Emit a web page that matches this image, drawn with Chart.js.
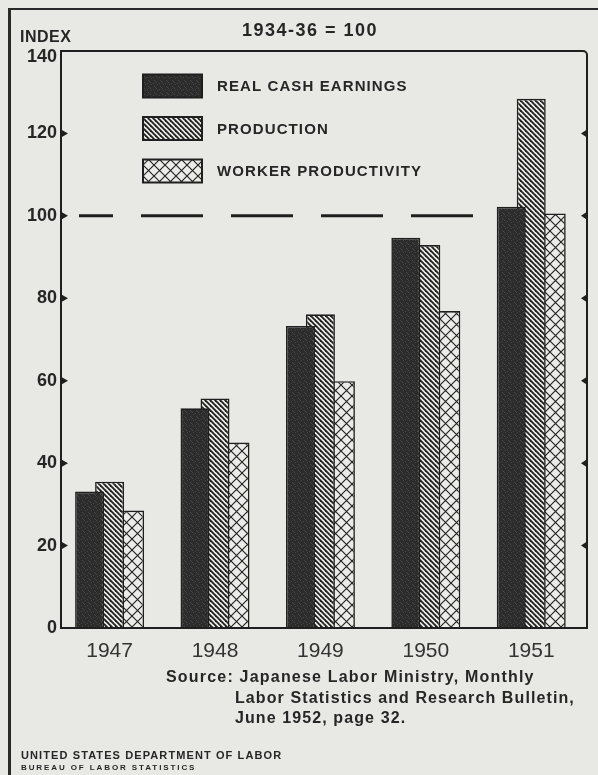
<!DOCTYPE html>
<html>
<head>
<meta charset="utf-8">
<title>Japan: real cash earnings, production and worker productivity, 1947-51</title>
<script src="https://cdn.jsdelivr.net/npm/chart.js@4.4.1/dist/chart.umd.min.js"></script>
<style>
  html, body { margin: 0; padding: 0; background: #e8e8e5; }
  #page {
    position: relative; width: 598px; height: 775px; overflow: hidden;
    background: #e8e8e5; color: #262626;
    font-family: "Liberation Sans", Arial, sans-serif;
  }
  #page canvas { position: absolute; left: 0; top: 0; }
  .txt { position: absolute; white-space: nowrap; font-weight: bold; line-height: 1; }
  .rule { position: absolute; background: #2a2a2a; }
</style>
</head>
<body>
<div id="page">
  <div class="rule" style="left:8px; top:8px; width:2.5px; height:780px;"></div>
  <div class="rule" style="left:8px; top:8px; width:600px; height:2px;"></div>

  <canvas id="chart" width="598" height="775"></canvas>

  <div class="txt" style="left:242px; top:21px; font-size:18px; letter-spacing:1.5px;">1934-36 = 100</div>
  <div class="txt" style="left:20px; top:29px; font-size:16px; letter-spacing:0.5px;">INDEX</div>

  <div class="txt" style="left:166px; top:669px; font-size:16px; letter-spacing:1.2px;">Source: Japanese Labor Ministry, Monthly</div>
  <div class="txt" style="left:235px; top:690px; font-size:16px; letter-spacing:1.1px;">Labor Statistics and Research Bulletin,</div>
  <div class="txt" style="left:235px; top:710px; font-size:16px; letter-spacing:1.1px;">June 1952, page 32.</div>

  <div class="txt" style="left:21px; top:750px; font-size:11px; letter-spacing:1.1px;">UNITED STATES DEPARTMENT OF LABOR</div>
  <div class="txt" style="left:21px; top:764px; font-size:8px; letter-spacing:1.9px;">BUREAU OF LABOR STATISTICS</div>
</div>

<script>
// values (index, 1934-36 = 100)
const years = [1947, 1948, 1949, 1950, 1951];
const realCashEarnings = [33.1, 53.3, 73.3, 94.7, 102.2];
const production = [35.5, 55.7, 76.1, 92.9, 128.4];
const workerProductivity = [28.5, 45.0, 59.9, 76.9, 100.6];
const yTicks = [0, 20, 40, 60, 80, 100, 120, 140];
const baseIndex = 100;

const INK = '#1f1f1f';
const PAPER = '#ebebe8';

// --- fill patterns, like the hatching of the printed chart ---
function makePattern(size, paint) {
    const c = document.createElement('canvas');
    c.width = size; c.height = size;
    const g = c.getContext('2d');
    paint(g, size);
    return g.createPattern(c, 'repeat');
}

const ctx0 = document.getElementById('chart').getContext('2d');

const darkFill = makePattern(6, (g, s) => {
    g.fillStyle = '#2c2c2c';
    g.fillRect(0, 0, s, s);
    g.fillStyle = '#464646';
    [[1, 0], [4, 2], [0, 4], [3, 5], [5, 3]].forEach(([x, y]) => g.fillRect(x, y, 1, 1));
});

const stripeFill = makePattern(5, (g, s) => {
    g.fillStyle = PAPER;
    g.fillRect(0, 0, s, s);
    g.strokeStyle = INK;
    g.lineWidth = 1.8;
    for (let k = -1; k <= 1; k++) {
        g.beginPath();
        g.moveTo(k * s - 1, -1);
        g.lineTo(k * s + s + 1, s + 1);
        g.stroke();
    }
});

const crossFill = makePattern(11, (g, s) => {
    g.fillStyle = PAPER;
    g.fillRect(0, 0, s, s);
    g.strokeStyle = INK;
    g.lineWidth = 1.1;
    g.beginPath();
    g.moveTo(0, 0); g.lineTo(s, s);
    g.moveTo(s, 0); g.lineTo(0, s);
    g.stroke();
});

// --- frame, tick arrows, the dashed 100 line and the legend ---
const framePlugin = {
    id: 'frame',
    afterLayout(chart) {
        // the top label (140) sits a little below its tick, under "INDEX"
        const items = chart.scales.y.getLabelItems(chart.chartArea);
        const top = items[items.length - 1];
        if (top) top.options.translation[1] += 6;
    },
    beforeDatasetsDraw(chart) {
        const { ctx, chartArea: a, scales: { y } } = chart;
        const yb = y.getPixelForValue(baseIndex);
        ctx.save();
        ctx.strokeStyle = INK;
        ctx.lineWidth = 3;
        ctx.setLineDash([62, 28]);
        ctx.lineDashOffset = 28;
        ctx.beginPath();
        ctx.moveTo(a.left + 18, yb);
        ctx.lineTo(a.right - 8, yb);
        ctx.stroke();
        ctx.restore();
    },
    afterDatasetsDraw(chart) {
        const { ctx, chartArea: a, scales: { y } } = chart;
        ctx.save();
        ctx.strokeStyle = INK;
        ctx.lineWidth = 2;
        ctx.beginPath();
        ctx.moveTo(a.left, a.bottom);
        ctx.lineTo(a.left, a.top);
        ctx.lineTo(a.right - 4, a.top);
        ctx.arcTo(a.right, a.top, a.right, a.top + 4, 4);
        ctx.lineTo(a.right, a.bottom);
        ctx.closePath();
        ctx.stroke();

        // small arrow ticks on both axes
        ctx.fillStyle = INK;
        yTicks.slice(1, -1).forEach(v => {
            const py = y.getPixelForValue(v);
            ctx.beginPath();
            ctx.moveTo(a.left, py - 4);
            ctx.lineTo(a.left + 7, py);
            ctx.lineTo(a.left, py + 4);
            ctx.fill();
            ctx.beginPath();
            ctx.moveTo(a.right, py - 4);
            ctx.lineTo(a.right - 6, py);
            ctx.lineTo(a.right, py + 4);
            ctx.fill();
        });

        // legend inside the plot
        const boxX = a.left + 82, boxW = 59, boxH = 23;
        ctx.font = 'bold 15px "Liberation Sans", Arial, sans-serif';
        ctx.letterSpacing = '1.1px';
        ctx.textBaseline = 'middle';
        chart.data.datasets.forEach((ds, i) => {
            const cy = a.top + 35 + i * 42.5;
            ctx.fillStyle = ds.backgroundColor;
            ctx.fillRect(boxX, cy - boxH / 2, boxW, boxH);
            ctx.lineWidth = 2;
            ctx.strokeRect(boxX, cy - boxH / 2, boxW, boxH);
            ctx.fillStyle = '#262626';
            ctx.fillText(ds.label, boxX + 74, cy + 1);
        });
        ctx.restore();
    }
};

const barStyle = { borderColor: INK, borderWidth: 1.6, categoryPercentage: 0.569, barPercentage: 1.45 };

new Chart(ctx0, {
    type: 'bar',
    data: {
        labels: years,
        datasets: [
            { label: 'REAL CASH EARNINGS', data: realCashEarnings, backgroundColor: darkFill, ...barStyle },
            { label: 'PRODUCTION', data: production, backgroundColor: stripeFill, ...barStyle },
            { label: 'WORKER PRODUCTIVITY', data: workerProductivity, backgroundColor: crossFill, ...barStyle }
        ]
    },
    options: {
        responsive: false,
        animation: false,
        layout: { padding: { top: 51, right: 11, left: 0, bottom: 0 } },
        plugins: { legend: { display: false }, tooltip: { enabled: false } },
        scales: {
            x: {
                type: 'linear',
                min: 1946.539,
                max: 1951.529,
                offset: false,
                grid: { display: false, drawTicks: false },
                border: { display: false },
                afterBuildTicks: scale => { scale.ticks = years.map(v => ({ value: v })); },
                afterFit: scale => { scale.height = 147; },
                ticks: {
                    padding: 11,
                    color: '#333',
                    font: { family: '"Liberation Sans", Arial, sans-serif', size: 21 },
                    callback: v => String(v)
                }
            },
            y: {
                min: 0,
                max: 140,
                grid: { display: false, drawTicks: false },
                border: { display: false },
                afterBuildTicks: scale => { scale.ticks = yTicks.map(v => ({ value: v })); },
                afterFit: scale => { scale.width = 61; },
                ticks: {
                    padding: 4,
                    color: '#262626',
                    font: { family: '"Liberation Sans", Arial, sans-serif', size: 18, weight: 'bold' }
                }
            }
        }
    },
    plugins: [framePlugin]
});
</script>
</body>
</html>
